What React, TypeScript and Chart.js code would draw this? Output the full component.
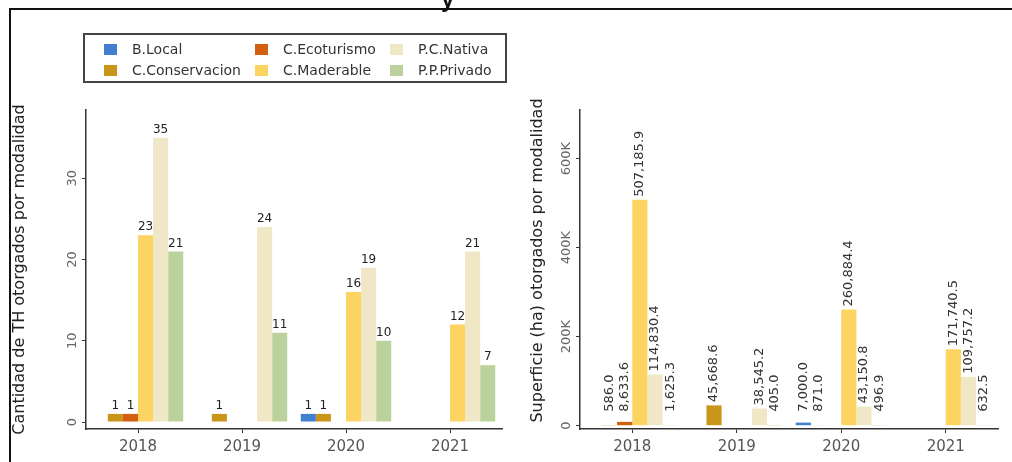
import React, { useEffect, useRef } from 'react';
import { Chart, registerables } from 'chart.js';

Chart.register(...registerables);

const years = ['2018', '2019', '2020', '2021'];
const seriesNames = ['B.Local', 'C.Conservacion', 'C.Ecoturismo', 'C.Maderable', 'P.C.Nativa', 'P.P.Privado'];
const seriesColors = ['#4280cf', '#c9961a', '#d35f10', '#fdd462', '#efe7c6', '#bcd29c'];

// Cantidad de títulos habilitantes por modalidad
const countBLocal = [null, null, 1, null];
const countCConservacion = [1, 1, 1, null];
const countCEcoturismo = [1, null, null, null];
const countCMaderable = [23, null, 16, 12];
const countPCNativa = [35, 24, 19, 21];
const countPPPrivado = [21, 11, 10, 7];

// Superficie (ha) por modalidad
const areaBLocal = [null, null, 7000.0, null];
const areaCConservacion = [586.0, 45668.6, 871.0, null];
const areaCEcoturismo = [8633.6, null, null, null];
const areaCMaderable = [507185.9, null, 260884.4, 171740.5];
const areaPCNativa = [114830.4, 38545.2, 43150.8, 109757.2];
const areaPPPrivado = [1625.3, 405.0, 496.9, 632.5];

const countTicks = [0, 10, 20, 30];
const countTickLabels = ['0', '10', '20', '30'];
const areaTicks = [0, 200000, 400000, 600000];
const areaTickLabels = ['0', '200K', '400K', '600K'];

const countTitle = 'Cantidad de TH otorgados por modalidad';
const areaTitle = 'Superficie (ha) otorgados por modalidad';

const FONT = '"DejaVu Sans", sans-serif';

const countSeries = [countBLocal, countCConservacion, countCEcoturismo, countCMaderable, countPCNativa, countPPPrivado];
const areaSeries = [areaBLocal, areaCConservacion, areaCEcoturismo, areaCMaderable, areaPCNativa, areaPPPrivado];

type PanelCfg = {
  series: (number | null)[][];
  yMin: number;
  yMax: number;
  ticks: number[];
  tickLabels: string[];
  title: string;
  titleX: number;
  titleDy: number;
  yWidth: number;
  padRight: number;
  rotatedLabels: boolean;
  fmt: (v: number) => string;
};

function makePlugin(cfg: PanelCfg) {
  return {
    id: 'customText',
    afterDatasetsDraw(chart: any) {
      const ctx = chart.ctx as CanvasRenderingContext2D;
      const ys = chart.scales.y;
      const area = chart.chartArea;
      ctx.save();
      // rotated y tick labels
      ctx.fillStyle = '#666666';
      ctx.font = `13px ${FONT}`;
      ctx.textAlign = 'center';
      ctx.textBaseline = 'middle';
      cfg.ticks.forEach((v, i) => {
        const py = ys.getPixelForValue(v);
        ctx.save();
        ctx.translate(area.left - 13, py);
        ctx.rotate(-Math.PI / 2);
        ctx.fillText(cfg.tickLabels[i], 0, 0);
        ctx.restore();
      });
      // y title
      ctx.fillStyle = '#222222';
      ctx.font = `16px ${FONT}`;
      ctx.save();
      ctx.translate(cfg.titleX, (area.top + area.bottom) / 2 + cfg.titleDy);
      ctx.rotate(-Math.PI / 2);
      ctx.fillText(cfg.title, 0, 0);
      ctx.restore();
      // data labels
      const zeroY = ys.getPixelForValue(0);
      chart.data.datasets.forEach((ds: any, di: number) => {
        const meta = chart.getDatasetMeta(di);
        meta.data.forEach((bar: any, i: number) => {
          const v = ds.data[i];
          if (v === null || v === undefined) return;
          const txt = cfg.fmt(v);
          if (cfg.rotatedLabels) {
            ctx.fillStyle = '#333333';
            ctx.font = `13px ${FONT}`;
            const base = Math.min(bar.y - 3, zeroY - 14);
            ctx.save();
            ctx.translate(bar.x, base);
            ctx.rotate(-Math.PI / 2);
            ctx.textAlign = 'left';
            ctx.textBaseline = 'middle';
            ctx.fillText(txt, 0, 0);
            ctx.restore();
          } else {
            ctx.fillStyle = '#222222';
            ctx.font = `12px ${FONT}`;
            ctx.textAlign = 'center';
            ctx.textBaseline = 'bottom';
            ctx.fillText(txt, bar.x, bar.y - 2);
          }
        });
      });
      ctx.restore();
    },
  };
}

function Panel({ cfg, left }: { cfg: PanelCfg; left: number }) {
  const ref = useRef<HTMLCanvasElement>(null);
  useEffect(() => {
    const canvas = ref.current!;
    const chart = new Chart(canvas, {
      type: 'bar',
      data: {
        labels: years,
        datasets: cfg.series.map((d, i) => ({
          label: seriesNames[i],
          data: d as any,
          backgroundColor: seriesColors[i],
          borderWidth: 0,
          categoryPercentage: 0.87,
          barPercentage: 1,
        })),
      },
      options: {
        animation: false,
        responsive: false,
        devicePixelRatio: 1,
        layout: { padding: { top: 110, right: cfg.padRight, bottom: 0, left: 0 } },
        plugins: { legend: { display: false }, tooltip: { enabled: false }, title: { display: false } },
        scales: {
          x: {
            type: 'category',
            offset: true,
            border: { display: true, color: '#333333', width: 1.5 },
            grid: { offset: false, drawOnChartArea: false, drawTicks: true, tickLength: 4, color: '#333333' },
            ticks: { color: '#555555', font: { family: FONT, size: 15 }, padding: 5, maxRotation: 0 },
            afterFit: (s: any) => { s.height = 33; },
          },
          y: {
            type: 'linear',
            min: cfg.yMin,
            max: cfg.yMax,
            border: { display: true, color: '#333333', width: 1.5 },
            grid: { drawOnChartArea: false, drawTicks: true, tickLength: 4, color: '#333333' },
            ticks: { display: false },
            afterBuildTicks: (s: any) => { s.ticks = cfg.ticks.map((v) => ({ value: v })); },
            afterFit: (s: any) => { s.width = cfg.yWidth; },
          },
        },
      },
      plugins: [makePlugin(cfg)],
    });
    return () => chart.destroy();
  }, []);
  return (
    <canvas
      ref={ref}
      width={506}
      height={462}
      style={{ position: 'absolute', left, top: 0, width: 506, height: 462 }}
    />
  );
}

const countCfg: PanelCfg = {
  series: countSeries,
  yMin: -0.86,
  yMax: 38.4,
  ticks: countTicks,
  tickLabels: countTickLabels,
  title: countTitle,
  titleX: 20,
  titleDy: 0,
  yWidth: 86,
  padRight: 4,
  rotatedLabels: false,
  fmt: (v) => String(v),
};

const areaCfg: PanelCfg = {
  series: areaSeries,
  yMin: -7400,
  yMax: 709000,
  ticks: areaTicks,
  tickLabels: areaTickLabels,
  title: areaTitle,
  titleX: 32,
  titleDy: -9,
  yWidth: 74,
  padRight: 14,
  rotatedLabels: true,
  fmt: (v) => v.toLocaleString('en-US', { minimumFractionDigits: 1, maximumFractionDigits: 1 }),
};

const legendCols = [
  [0, 1],
  [2, 3],
  [4, 5],
];
const legendColX = [104, 255, 390];

export default function App() {
  return (
    <div style={{ position: 'relative', width: 1012, height: 462, overflow: 'hidden', background: '#fff' }}>
      <style>{`body{margin:0}`}</style>
      <Panel cfg={countCfg} left={0} />
      <Panel cfg={areaCfg} left={506} />
      <div
        style={{
          position: 'absolute',
          left: 83,
          top: 33,
          width: 420,
          height: 46,
          border: '2px solid #444',
          background: '#fff',
        }}
      />
      {legendCols.map((col, ci) =>
        col.map((si, ri) => (
          <div
            key={si}
            style={{
              position: 'absolute',
              left: legendColX[ci],
              top: 42 + ri * 21,
              height: 14,
              display: 'flex',
              alignItems: 'center',
              fontFamily: FONT,
              fontSize: 14,
              color: '#333',
              whiteSpace: 'nowrap',
            }}
          >
            <span style={{ display: 'inline-block', width: 13, height: 11, background: seriesColors[si], marginRight: 15 }} />
            <span>{seriesNames[si]}</span>
          </div>
        ))
      )}
      <div
        style={{
          position: 'absolute',
          left: 9,
          top: 8,
          width: 1100,
          height: 600,
          borderTop: '2px solid #111',
          borderLeft: '2px solid #111',
        }}
      />
      <div
        style={{
          position: 'absolute',
          left: 441,
          top: -13,
          fontFamily: '"Liberation Sans", Arial, sans-serif',
          fontWeight: 'bold',
          fontSize: 24,
          lineHeight: '24px',
          color: '#111',
        }}
      >
        y
      </div>
    </div>
  );
}
